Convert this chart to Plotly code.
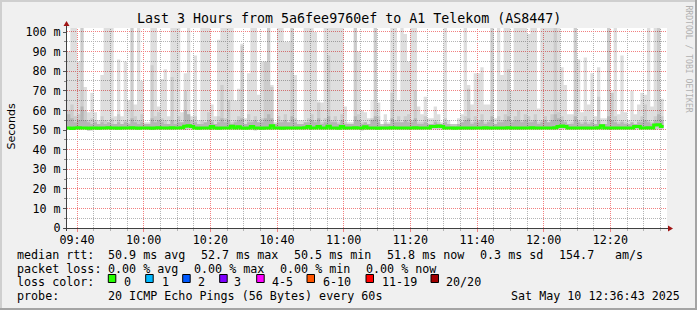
import math
import plotly.graph_objects as go
import pandas as pd

# ---------------- data ----------------
start_time = "2025-05-10 09:37:00"
end_time = "2025-05-10 12:37:00"

# max ping per minute (top of the lightest smoke), ms
rtt_max = [
    90, 102, 102, 85, 102, 72, 59, 69, 59, 55,
    78, 102, 102, 102, 57, 86, 57, 85, 65, 102,
    63, 102, 75, 54, 54, 102, 102, 62, 76, 81,
    57, 102, 102, 102, 59, 79, 102, 57, 88, 55,
    102, 102, 102, 63, 57, 96, 102, 102, 102, 102,
    65, 71, 94, 56, 79, 102, 102, 68, 85, 85,
    102, 73, 54, 102, 102, 95, 95, 102, 78, 55,
    55, 102, 102, 102, 100, 64, 64, 102, 102, 102,
    102, 102, 102, 62, 54, 54, 102, 90, 60, 59,
    56, 56, 102, 64, 53, 58, 54, 102, 102, 65,
    102, 99, 85, 102, 102, 62, 58, 67, 56, 56,
    62, 58, 54, 102, 55, 53, 53, 56, 58, 102,
    73, 63, 79, 79, 82, 63, 63, 102, 56, 102,
    78, 102, 102, 70, 102, 102, 102, 102, 99, 102,
    102, 61, 102, 102, 102, 102, 102, 102, 82, 73,
    58, 58, 102, 86, 59, 87, 63, 79, 57, 82,
    56, 56, 102, 69, 102, 58, 88, 59, 55, 70,
    58, 63, 69, 68, 102, 62, 102, 102, 66,
]

# second highest ping (medium smoke), ms
rtt_p2 = [
    60, 63, 57, 58, 102, 60, 55, 56, 55, 53,
    57, 55, 54, 56, 53, 58, 53, 55, 54, 102,
    57, 55, 58, 53, 53, 83, 57, 59, 56, 55,
    53, 77, 55, 57, 54, 70, 58, 53, 57, 53,
    55, 54, 59, 55, 53, 57, 73, 56, 65, 54,
    55, 57, 93, 53, 58, 55, 57, 54, 56, 85,
    102, 72, 53, 57, 55, 58, 54, 102, 56, 53,
    53, 54, 56, 58, 55, 65, 54, 56, 88, 55,
    57, 54, 58, 54, 53, 53, 102, 58, 54, 54,
    53, 65, 102, 57, 52, 54, 53, 69, 55, 57,
    54, 57, 58, 55, 70, 54, 54, 57, 53, 53,
    55, 54, 53, 56, 53, 52, 52, 53, 54, 57,
    71, 54, 57, 55, 58, 54, 55, 102, 53, 57,
    55, 58, 81, 55, 57, 60, 55, 58, 57, 55,
    58, 54, 55, 57, 54, 58, 102, 59, 57, 55,
    53, 54, 102, 55, 54, 57, 54, 55, 53, 67,
    53, 53, 102, 70, 57, 54, 55, 54, 53, 54,
    53, 55, 57, 63, 55, 54, 57, 102, 57,
]

# inner smoke upper edge, ms
rtt_p3 = [
    58, 56, 54, 55, 62, 55, 54, 53, 54, 53,
    54, 53, 54, 53, 53, 54, 53, 54, 53, 56,
    54, 53, 54, 53, 53, 56, 54, 55, 54, 53,
    53, 55, 53, 54, 54, 60, 58, 55, 54, 53,
    53, 54, 55, 54, 53, 54, 56, 54, 55, 53,
    54, 55, 56, 53, 54, 54, 55, 54, 54, 56,
    58, 56, 53, 54, 54, 55, 54, 57, 54, 53,
    53, 54, 54, 55, 54, 56, 53, 54, 57, 54,
    54, 53, 55, 53, 53, 53, 57, 55, 53, 54,
    53, 55, 57, 54, 53, 53, 53, 56, 54, 54,
    54, 55, 54, 54, 56, 53, 53, 54, 53, 53,
    54, 53, 53, 54, 53, 53, 53, 53, 54, 55,
    56, 53, 54, 54, 55, 53, 54, 57, 53, 54,
    54, 55, 57, 54, 55, 55, 54, 55, 54, 54,
    55, 53, 54, 55, 54, 55, 58, 56, 55, 54,
    53, 53, 57, 54, 53, 54, 53, 54, 53, 55,
    53, 53, 57, 55, 54, 53, 54, 53, 53, 54,
    53, 54, 54, 55, 54, 53, 55, 58, 55,
]

# median rtt (green line), ms
rtt_median = [
    51.0, 50.8, 51.0, 51.1, 51.0, 51.0, 50.9, 51.0, 51.0, 50.9,
    51.0, 51.0, 51.1, 51.0, 51.0, 50.9, 51.0, 51.0, 51.0, 51.1,
    51.0, 50.9, 51.0, 51.0, 51.0, 50.9, 51.0, 51.1, 51.0, 51.0,
    51.0, 51.2, 51.0, 51.0, 51.1, 51.9, 52.2, 51.8, 51.0, 50.9,
    51.0, 51.0, 51.0, 51.8, 51.0, 50.9, 51.0, 51.0, 51.0, 51.9,
    51.0, 51.7, 51.0, 50.9, 51.0, 51.8, 51.0, 51.0, 50.9, 51.0,
    51.0, 52.2, 51.0, 51.0, 50.9, 51.0, 51.0, 51.0, 51.0, 51.0,
    51.0, 51.1, 51.8, 51.0, 51.0, 51.8, 51.0, 51.0, 51.9, 51.0,
    51.0, 50.9, 51.8, 51.0, 51.0, 51.0, 51.1, 51.0, 51.0, 51.7,
    51.0, 51.0, 51.0, 50.9, 51.0, 51.0, 51.0, 51.1, 51.0, 51.0,
    51.0, 51.0, 51.0, 51.0, 51.1, 51.0, 51.0, 51.0, 51.0, 51.8,
    51.8, 52.0, 51.8, 51.0, 51.0, 51.0, 50.9, 51.0, 51.0, 51.0,
    51.0, 51.0, 51.0, 51.0, 51.0, 51.1, 51.0, 51.0, 51.0, 51.0,
    51.0, 51.0, 51.1, 51.0, 51.0, 51.0, 51.0, 51.0, 51.0, 51.1,
    51.0, 51.0, 51.0, 51.0, 51.0, 51.0, 51.1, 51.8, 52.0, 51.8,
    51.0, 51.0, 51.0, 51.0, 51.0, 51.0, 51.0, 51.0, 51.0, 51.1,
    52.2, 51.0, 51.0, 51.0, 51.0, 51.0, 51.0, 51.0, 51.0, 51.0,
    51.8, 51.8, 51.0, 51.0, 51.1, 51.0, 52.5, 52.7, 51.8,
]

# minimum ping (bottom of the smoke), ms
rtt_min = [
    50.2, 50.0, 50.3, 50.1, 50.2, 50.4, 49.6, 49.8, 50.3, 50.2,
    50.3, 50.2, 50.4, 50.3, 50.1, 50.4, 50.3, 50.2, 50.4, 50.1,
    50.3, 50.2, 50.4, 50.3, 50.3, 50.0, 50.2, 50.3, 50.4, 50.2,
    50.3, 50.1, 50.3, 50.4, 50.2, 50.0, 50.1, 50.3, 50.4, 50.2,
    50.3, 50.2, 50.3, 50.1, 50.4, 50.3, 50.2, 50.4, 50.3, 50.2,
    50.3, 50.1, 50.2, 50.4, 50.3, 50.2, 49.8, 50.3, 50.2, 50.3,
    50.2, 50.1, 50.4, 50.3, 50.2, 50.3, 50.4, 50.2, 50.3, 50.4,
    50.3, 50.2, 50.1, 50.3, 50.4, 50.2, 50.3, 50.2, 50.1, 50.3,
    50.4, 50.2, 50.3, 50.1, 50.3, 50.4, 50.2, 50.3, 49.7, 50.3,
    50.2, 50.3, 50.1, 50.3, 50.4, 50.2, 50.3, 50.2, 50.4, 50.3,
    50.2, 50.3, 50.1, 50.4, 50.3, 50.2, 50.3, 50.4, 50.2, 50.3,
    50.2, 50.1, 50.3, 50.2, 50.4, 50.3, 50.2, 50.4, 50.3, 50.2,
    50.3, 50.1, 50.3, 50.4, 50.2, 50.3, 50.2, 50.1, 50.4, 50.3,
    50.2, 50.3, 50.4, 50.2, 50.3, 50.1, 50.3, 50.2, 50.4, 50.3,
    50.2, 50.3, 50.2, 50.4, 50.3, 50.2, 50.1, 50.3, 50.2, 50.4,
    50.3, 50.2, 50.1, 50.3, 50.4, 50.2, 50.3, 50.2, 50.4, 50.3,
    50.2, 50.4, 50.1, 50.3, 50.2, 50.3, 50.4, 50.2, 50.3, 50.2,
    50.3, 50.2, 50.3, 50.4, 50.2, 50.3, 50.1, 50.2, 50.3,
]

y_tick_values = [0, 10, 20, 30, 40, 50, 60, 70, 80, 90, 100]
y_tick_labels = ["0", "10 m", "20 m", "30 m", "40 m", "50 m",
                 "60 m", "70 m", "80 m", "90 m", "100 m"]

title_text = "Last 3 Hours from 5a6fee9760ef to A1 Telekom (AS8447)"
legend_rtt = [("median rtt:", 16), ("50.9 ms avg", 107.3), ("52.7 ms max", 200),
              ("50.5 ms min", 293.3), ("51.8 ms now", 385.7), ("0.3 ms sd", 479.3),
              ("154.7", 558.3), ("am/s", 614)]
legend_loss = [("packet loss:", 16), ("0.00 % avg", 107.3), ("0.00 % max", 193.3),
               ("0.00 % min", 279.3), ("0.00 % now", 365)]
loss_labels = ["0", "1", "2", "3", "4-5", "6-10", "11-19", "20/20"]
loss_colors = ["#26ff00", "#00b8ff", "#0059ff", "#7e00ff", "#ff00ff",
               "#ff5500", "#ff0000", "#a10000"]
probe_text = "20 ICMP Echo Pings (56 Bytes) every 60s"
date_text = "Sat May 10 12:36:43 2025"
watermark = "RRDTOOL / TOBI OETIKER"

# ---------------- layout geometry (pixels) ----------------
W, H = 697, 310
L, R, T, B = 67, 667, 28, 228
Y_MAX = 102.04
MONO = "DejaVu Sans Mono"
FS = 11.7


def px(x):
    return (x - L) / (R - L)


def py(y):
    return (B - y) / (B - T)


n = len(rtt_max)
times = pd.date_range(start_time, periods=n + 1, freq="min")
t0 = pd.Timestamp(start_time)
t1 = pd.Timestamp(end_time)


def step(vals):
    return list(vals) + [vals[-1]]


fig = go.Figure()


def band(lo, hi, color):
    fig.add_trace(go.Scatter(x=times, y=step(lo), mode="lines",
                             line=dict(width=0, shape="hv"),
                             hoverinfo="skip", showlegend=False))
    fig.add_trace(go.Scatter(x=times, y=step(hi), mode="lines",
                             line=dict(width=0, shape="hv"), fill="tonexty",
                             fillcolor=color, hoverinfo="skip", showlegend=False))


band(rtt_min, rtt_max, "rgba(0,0,0,0.128)")
band(rtt_min, rtt_p2, "rgba(0,0,0,0.08)")
band(rtt_median, rtt_p3, "rgba(0,0,0,0.11)")

fig.add_trace(go.Scatter(x=times, y=step(rtt_median), mode="lines",
                         line=dict(width=3, shape="hv", color="#26ff00"),
                         hoverinfo="skip", showlegend=False))

MAJ = "#f28080"
MIN = "#b4b4b4"

fig.update_layout(
    width=W, height=H, autosize=False,
    margin=dict(l=L, r=W - R, t=T, b=H - B, pad=0),
    paper_bgcolor="#f0f0f0", plot_bgcolor="#ffffff",
    showlegend=False,
    xaxis=dict(
        type="date", range=[start_time, end_time],
        tick0="2025-05-10 09:40:00", dtick=20 * 60 * 1000, tickformat="%H:%M",
        showgrid=False,
        ticks="outside", ticklen=3, tickcolor=MAJ, ticklabelstandoff=-2,
        minor=dict(dtick=5 * 60 * 1000, tick0="2025-05-10 09:40:00", showgrid=False,
                   ticks="outside", ticklen=2, tickcolor=MIN),
        showline=False, zeroline=False,
        tickfont=dict(family=MONO, size=FS, color="#000000"),
    ),
    yaxis=dict(
        range=[0, Y_MAX], tickvals=y_tick_values, ticktext=y_tick_labels,
        showgrid=False,
        ticks="outside", ticklen=3, tickcolor="#555555",
        minor=dict(dtick=5, tick0=0, showgrid=False,
                   ticks="outside", ticklen=2, tickcolor="#888888"),
        showline=False, zeroline=False,
        tickfont=dict(family=MONO, size=FS, color="#000000"),
    ),
)

shapes = []
# dotted grid (drawn under the semi-transparent smoke), snapped to pixel centres
span = (t1 - t0).total_seconds()
gt = pd.Timestamp("2025-05-10 09:40:00")
k = 0
while gt < t1:
    xpix = math.floor(L + (gt - t0).total_seconds() / span * (R - L)) + 0.5
    col = MAJ if k % 4 == 0 else MIN
    shapes.append(dict(type="line", xref="paper", yref="paper", layer="below",
                       x0=px(xpix), x1=px(xpix), y0=0, y1=1,
                       line=dict(color=col, width=1, dash="1px,1px")))
    gt += pd.Timedelta(minutes=5)
    k += 1
for v in range(5, 105, 5):
    ypix = math.floor(B - v / Y_MAX * (B - T)) + 0.5
    col = MAJ if v % 10 == 0 else MIN
    shapes.append(dict(type="line", xref="paper", yref="paper", layer="below",
                       x0=0, x1=1, y0=py(ypix), y1=py(ypix),
                       line=dict(color=col, width=1, dash="1px,1px")))

# image border (3D shading)
shapes.append(dict(type="rect", xref="paper", yref="paper", x0=px(0), x1=px(W), y0=py(0), y1=py(2),
                    fillcolor="#cfcfcf", line=dict(width=0)))
shapes.append(dict(type="rect", xref="paper", yref="paper", x0=px(0), x1=px(2), y0=py(0), y1=py(H),
                    fillcolor="#cfcfcf", line=dict(width=0)))
shapes.append(dict(type="rect", xref="paper", yref="paper", x0=px(0), x1=px(W), y0=py(H - 2), y1=py(H),
                    fillcolor="#a4a4a4", line=dict(width=0)))
shapes.append(dict(type="rect", xref="paper", yref="paper", x0=px(W - 2), x1=px(W), y0=py(0), y1=py(H),
                    fillcolor="#a4a4a4", line=dict(width=0)))
# axes
AX = "#404040"
shapes.append(dict(type="line", xref="paper", yref="paper", x0=px(66.5), x1=px(66.5), y0=py(231), y1=py(25),
                    line=dict(color=AX, width=1)))
shapes.append(dict(type="line", xref="paper", yref="paper", x0=px(64), x1=px(670), y0=py(228.5), y1=py(228.5),
                    line=dict(color=AX, width=1)))
ARW = "#a01414"
shapes.append(dict(type="path", xref="paper", yref="paper",
                   path=f"M {px(63.5)} {py(26)} L {px(69.5)} {py(26)} L {px(66.5)} {py(21)} Z",
                   fillcolor=ARW, line=dict(width=0)))
shapes.append(dict(type="path", xref="paper", yref="paper",
                   path=f"M {px(668)} {py(225.5)} L {px(668)} {py(231.5)} L {px(673)} {py(228.5)} Z",
                   fillcolor=ARW, line=dict(width=0)))
# loss colour boxes
box_x = [108.3, 145.7, 182.7, 219.7, 256.7, 307, 366, 431]
lab_x = [123, 160.7, 196.7, 233.3, 270.7, 321.7, 380.7, 445.3]
for bx, col in zip(box_x, loss_colors):
    shapes.append(dict(type="rect", xref="paper", yref="paper", x0=px(bx), x1=px(bx + 7.5),
                       y0=py(282.5), y1=py(274.5), fillcolor=col, line=dict(color="#000000", width=1)))
fig.update_layout(shapes=shapes)


def txt(x, y, s, size=FS, anchor="left", color="#000000", angle=0, family=MONO):
    fig.add_annotation(x=px(x), y=py(y), xref="paper", yref="paper",
                       text=s.replace(" ", "\u00a0"), showarrow=False,
                       xanchor=anchor, yanchor="middle", borderpad=0,
                       font=dict(family=family, size=size, color=color), textangle=angle)


txt(348.5, 18.5, title_text, size=13.3, anchor="center")
txt(10.5, 127, "Seconds", size=11, anchor="center", angle=-90, family="DejaVu Sans")
txt(688, 58.5, watermark, size=8.1, anchor="center", color="#b0b0b0", angle=90)

for s, x in legend_rtt:
    txt(x, 254.5, s)
for s, x in legend_loss:
    txt(x, 268.5, s)
txt(16, 281.5, "loss color:")
for s, x in zip(loss_labels, lab_x):
    txt(x, 281.5, s)
txt(16, 296, "probe:")
txt(107.3, 296, probe_text)
txt(681, 296, date_text, anchor="right")

fig.write_html("out.html")
